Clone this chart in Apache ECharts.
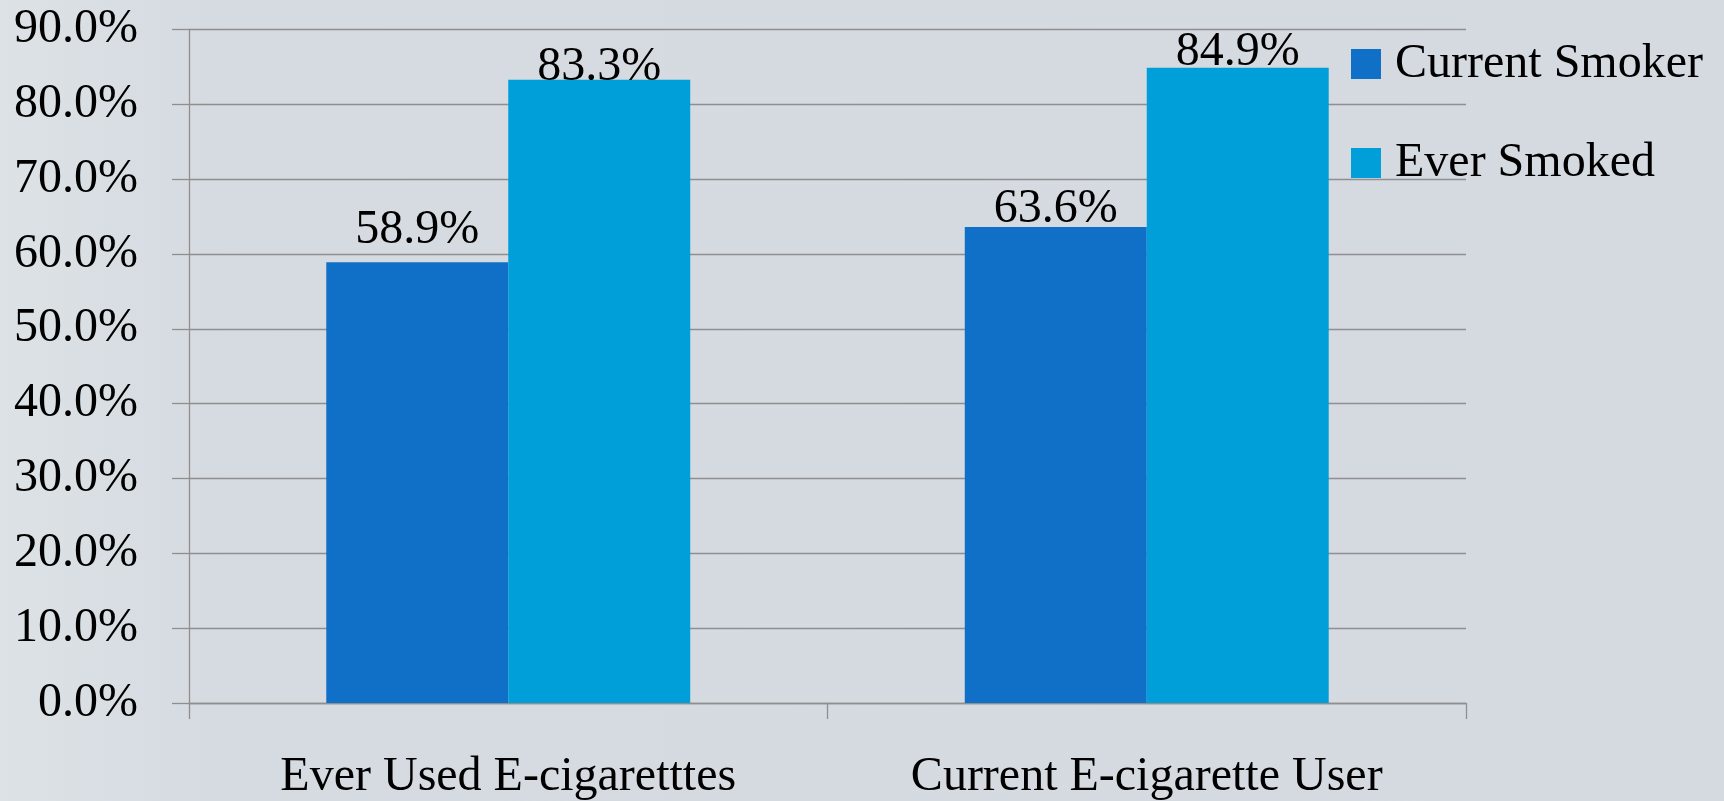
<!DOCTYPE html>
<html>
<head>
<meta charset="utf-8">
<script src="https://cdn.jsdelivr.net/npm/echarts@6/dist/echarts.min.js"></script>
<style>
html,body{margin:0;padding:0;}
#c{width:1724px;height:801px;}
</style>
</head>
<body>
<div id="c"></div>
<script>
const categories = ['Ever Used E-cigaretttes', 'Current E-cigarette User'];
const seriesNames = ['Current Smoker', 'Ever Smoked'];
const currentSmoker = [58.9, 63.6];
const everSmoked = [83.3, 84.9];
const yTicks = [0, 10, 20, 30, 40, 50, 60, 70, 80, 90];

// label placement styling (px offsets per bar, as in the original)
const labelDistCurrent = [8, -6];
const labelDistEver = [-11.5, -9];

const FONT = '"Liberation Serif", "Times New Roman", serif';
const FS = 48;
const chart = echarts.init(document.getElementById('c'), null, {renderer: 'canvas'});
const labelStyle = {
  show: true, position: 'top',
  fontFamily: FONT, fontSize: FS, color: '#000',
  formatter: p => p.value.toFixed(1) + '%'
};
const withLabels = (vals, dists) => vals.map((v, i) => ({value: v, label: {distance: dists[i]}}));
chart.setOption({
  animation: false,
  backgroundColor: {
    type: 'linear', x: 0, y: 0, x2: 1, y2: 0,
    colorStops: [{offset: 0, color: '#dce2e6'}, {offset: 0.12, color: '#d6dbe1'}, {offset: 1, color: '#d5d9e0'}]
  },
  grid: {left: 189, top: 29.5, width: 1277, height: 674.5, containLabel: false},
  legend: {
    orient: 'vertical', left: 1351, top: 40, padding: 0,
    itemWidth: 30, itemHeight: 30, itemGap: 51, icon: 'rect',
    textStyle: {fontFamily: FONT, fontSize: FS, color: '#000', padding: [0, 0, 0, 9]},
    data: seriesNames
  },
  xAxis: {
    type: 'category', data: categories,
    axisLine: {lineStyle: {color: '#8f8f8f', width: 1.3}},
    axisTick: {show: true, length: 16, lineStyle: {color: '#8f8f8f', width: 1.3}},
    axisLabel: {fontFamily: FONT, fontSize: FS, color: '#000', margin: 50}
  },
  yAxis: {
    type: 'value', min: 0, max: 90, interval: 10,
    axisLine: {show: true, lineStyle: {color: '#8f8f8f', width: 1.3}},
    axisTick: {show: true, length: 17, lineStyle: {color: '#8f8f8f', width: 1.3}},
    splitLine: {show: true, lineStyle: {color: '#8f8f8f', width: 1.3}},
    axisLabel: {
      fontFamily: FONT, fontSize: FS, color: '#000', margin: 51,
      formatter: v => yTicks.includes(v) ? v.toFixed(1) + '%' : ''
    }
  },
  series: [
    {name: seriesNames[0], type: 'bar', data: withLabels(currentSmoker, labelDistCurrent), barGap: '0%', barCategoryGap: '43%',
     itemStyle: {color: '#1070c8'}, label: labelStyle},
    {name: seriesNames[1], type: 'bar', data: withLabels(everSmoked, labelDistEver), barGap: '0%', barCategoryGap: '43%',
     itemStyle: {color: '#009fd9'}, label: labelStyle}
  ]
});
</script>
</body>
</html>
